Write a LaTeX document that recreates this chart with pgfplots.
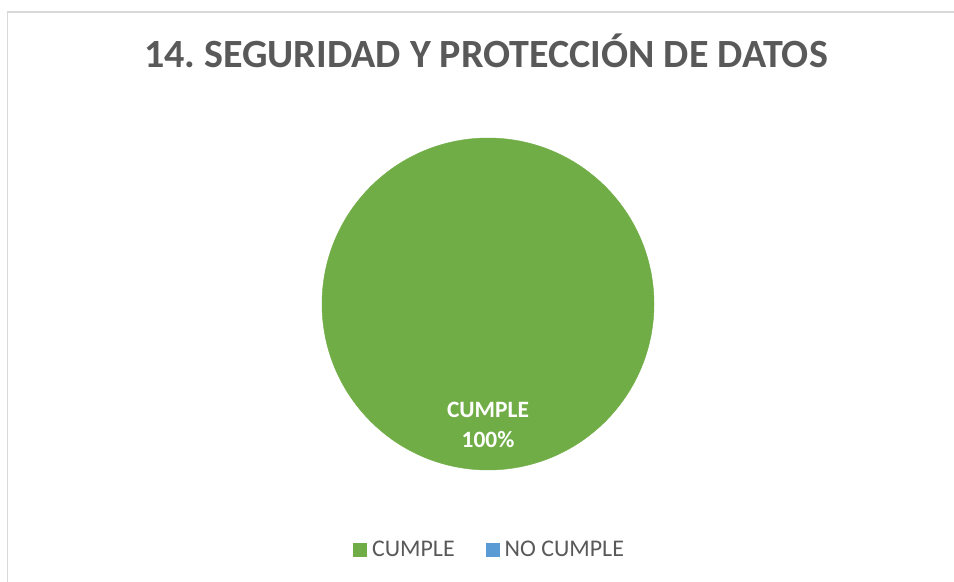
\documentclass[border=0pt]{standalone}
\usepackage{fontspec}
\setmainfont{Carlito}
\usepackage{pgfplots}
\pgfplotsset{compat=1.18}
\definecolor{cumple}{HTML}{70AD47}
\definecolor{nocumple}{HTML}{5B9BD5}
\definecolor{txt}{HTML}{595959}
\definecolor{marco}{HTML}{D9D9D9}
\frenchspacing

\begin{document}
\begin{tikzpicture}
\begin{axis}[
  width=954bp, height=582bp, scale only axis,
  xmin=0, xmax=954, ymin=0, ymax=582,
  hide axis, clip=false,
  title={\bfseries 14. SEGURIDAD Y PROTECCIÓN DE DATOS},
  title style={at={(0.5,0.8729)}, anchor=base, text=txt, xshift=9bp,
    font=\fontsize{40.2}{42}\selectfont},
  legend style={at={(0.5131,0.0558)}, anchor=center, draw=none,
    legend columns=2, text=txt, font=\fontsize{24}{26}\selectfont,
    /tikz/every odd column/.append style={column sep=3bp},
    /tikz/every even column/.append style={column sep=29bp}},
  legend image code/.code={\fill[#1] (0bp,-7bp) rectangle (14bp,7bp);},
]
% CUMPLE = 100 %, NO CUMPLE = 0 %: the pie is one full disc
\addplot[only marks, mark=*, mark size=166bp,
  mark options={fill=cumple, draw=cumple}, forget plot]
  coordinates {(488,278)};
\addlegendimage{fill=cumple, draw=none}
\addlegendentry{CUMPLE}
\addlegendimage{fill=nocumple, draw=none}
\addlegendentry{NO CUMPLE}

\coordinate (l1) at (axis cs:488,164);
\coordinate (l2) at (axis cs:488,134);
\coordinate (sw) at (rel axis cs:0,0);
\coordinate (ne) at (rel axis cs:1,1);
\draw[marco, line width=1.5bp] (axis cs:7.5,0) |- (axis cs:954,570);
\end{axis}
\node[white, anchor=base, font=\bfseries\fontsize{23.5}{26}\selectfont] at (l1) {CUMPLE};
\node[white, anchor=base, font=\bfseries\fontsize{23.5}{26}\selectfont] at (l2) {100\%};
\pgfresetboundingbox
\useasboundingbox (sw) rectangle (ne);
\end{tikzpicture}
\end{document}
